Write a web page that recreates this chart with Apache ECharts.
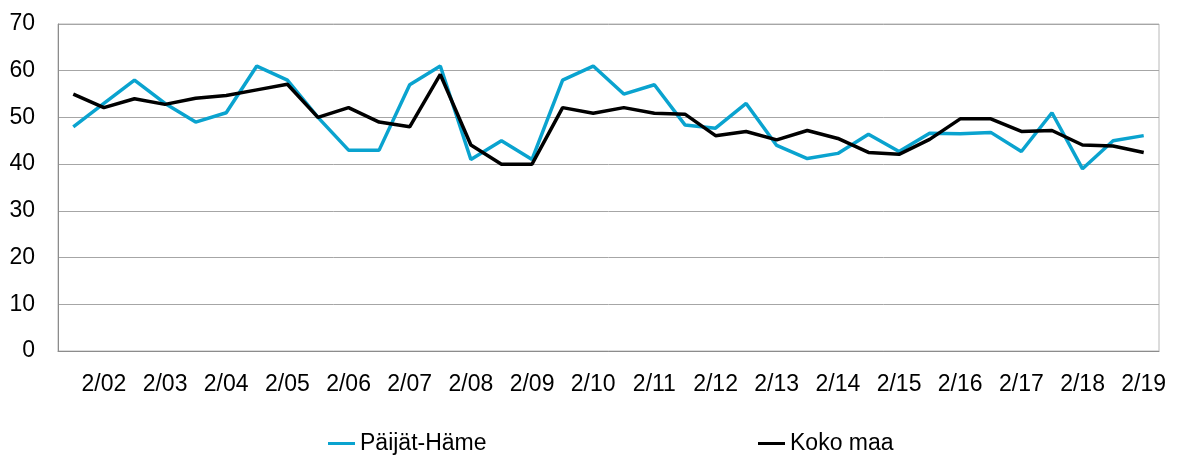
<!DOCTYPE html>
<html>
<head>
<meta charset="utf-8">
<script src="https://cdn.jsdelivr.net/npm/echarts@6/dist/echarts.min.js"></script>
<style>
  html, body { margin: 0; padding: 0; background: #fff; }
  #chart { width: 1184px; height: 457px; }
</style>
</head>
<body>
<div id="chart"></div>
<script>
// Puolivuodet 1/02 ... 2/19 (vain jälkimmäiset näytetään akselilla)
var vuodet = ['02','03','04','05','06','07','08','09','10','11','12','13','14','15','16','17','18','19'];
var jaksot = [];
vuodet.forEach(function (v) {
  jaksot.push('1/' + v);
  jaksot.push('2/' + v);
});

// Päijät-Häme
var paijatHame = [
  48, 53, 58, 53, 49, 51, 61, 58, 50, 43,
  43, 57, 61, 41, 45, 41, 58, 61, 55, 57,
  48.4, 47.7, 53, 44, 41.2, 42.3, 46.4, 42.7, 46.6, 46.5,
  46.8, 42.7, 51, 39, 45, 46.1
];

// Koko maa
var kokoMaa = [
  55, 52.1, 54, 52.8, 54.1, 54.7, 55.9, 57.1, 50, 52.1,
  49, 48, 59.2, 44.1, 40, 40, 52.1, 50.9, 52.1, 50.9,
  50.7, 46.1, 47, 45.2, 47.2, 45.5, 42.5, 42.1, 45.3, 49.7,
  49.7, 47, 47.2, 44.1, 43.9, 42.5
];

var yTicks = [0, 10, 20, 30, 40, 50, 60, 70];

var fontti = 'Liberation Sans, Arial, sans-serif';
var myChart = echarts.init(document.getElementById('chart'));

// yhteiset legendan asetukset
function legenda(nimi, vasen) {
  return {
    top: 427,
    left: vasen,
    itemWidth: 27,
    itemHeight: 3,
    icon: 'rect',
    textStyle: { fontSize: 23, color: '#000', fontFamily: fontti },
    data: [nimi]
  };
}

var option = {
  animation: false,
  textStyle: { fontFamily: fontti },
  grid: {
    left: 58,
    top: 24,
    right: 25,
    bottom: 106,
    show: true,
    borderColor: '#b8b8b8',
    borderWidth: 1
  },
  legend: [legenda('Päijät-Häme', 323), legenda('Koko maa', 753)],
  xAxis: {
    type: 'category',
    data: jaksot,
    boundaryGap: true,
    axisLine: { lineStyle: { color: '#8c8c8c', width: 1 } },
    axisTick: { show: false },
    axisLabel: {
      interval: function (idx) { return idx % 2 === 1; },
      color: '#000',
      fontSize: 23,
      margin: 22
    }
  },
  yAxis: {
    type: 'value',
    min: yTicks[0],
    max: yTicks[yTicks.length - 1],
    interval: 10,
    axisLine: { show: true, lineStyle: { color: '#8c8c8c', width: 1 } },
    axisTick: { show: false },
    axisLabel: { color: '#000', fontSize: 23, margin: 23 },
    splitLine: { lineStyle: { color: '#a6a6a6', width: 1 } }
  },
  series: [
    {
      name: 'Päijät-Häme',
      type: 'line',
      data: paijatHame,
      symbol: 'none',
      lineStyle: { color: '#0aa3cf', width: 3.5 },
      itemStyle: { color: '#0aa3cf' }
    },
    {
      name: 'Koko maa',
      type: 'line',
      data: kokoMaa,
      symbol: 'none',
      lineStyle: { color: '#000000', width: 3.5 },
      itemStyle: { color: '#000000' }
    }
  ]
};

myChart.setOption(option);
</script>
</body>
</html>
